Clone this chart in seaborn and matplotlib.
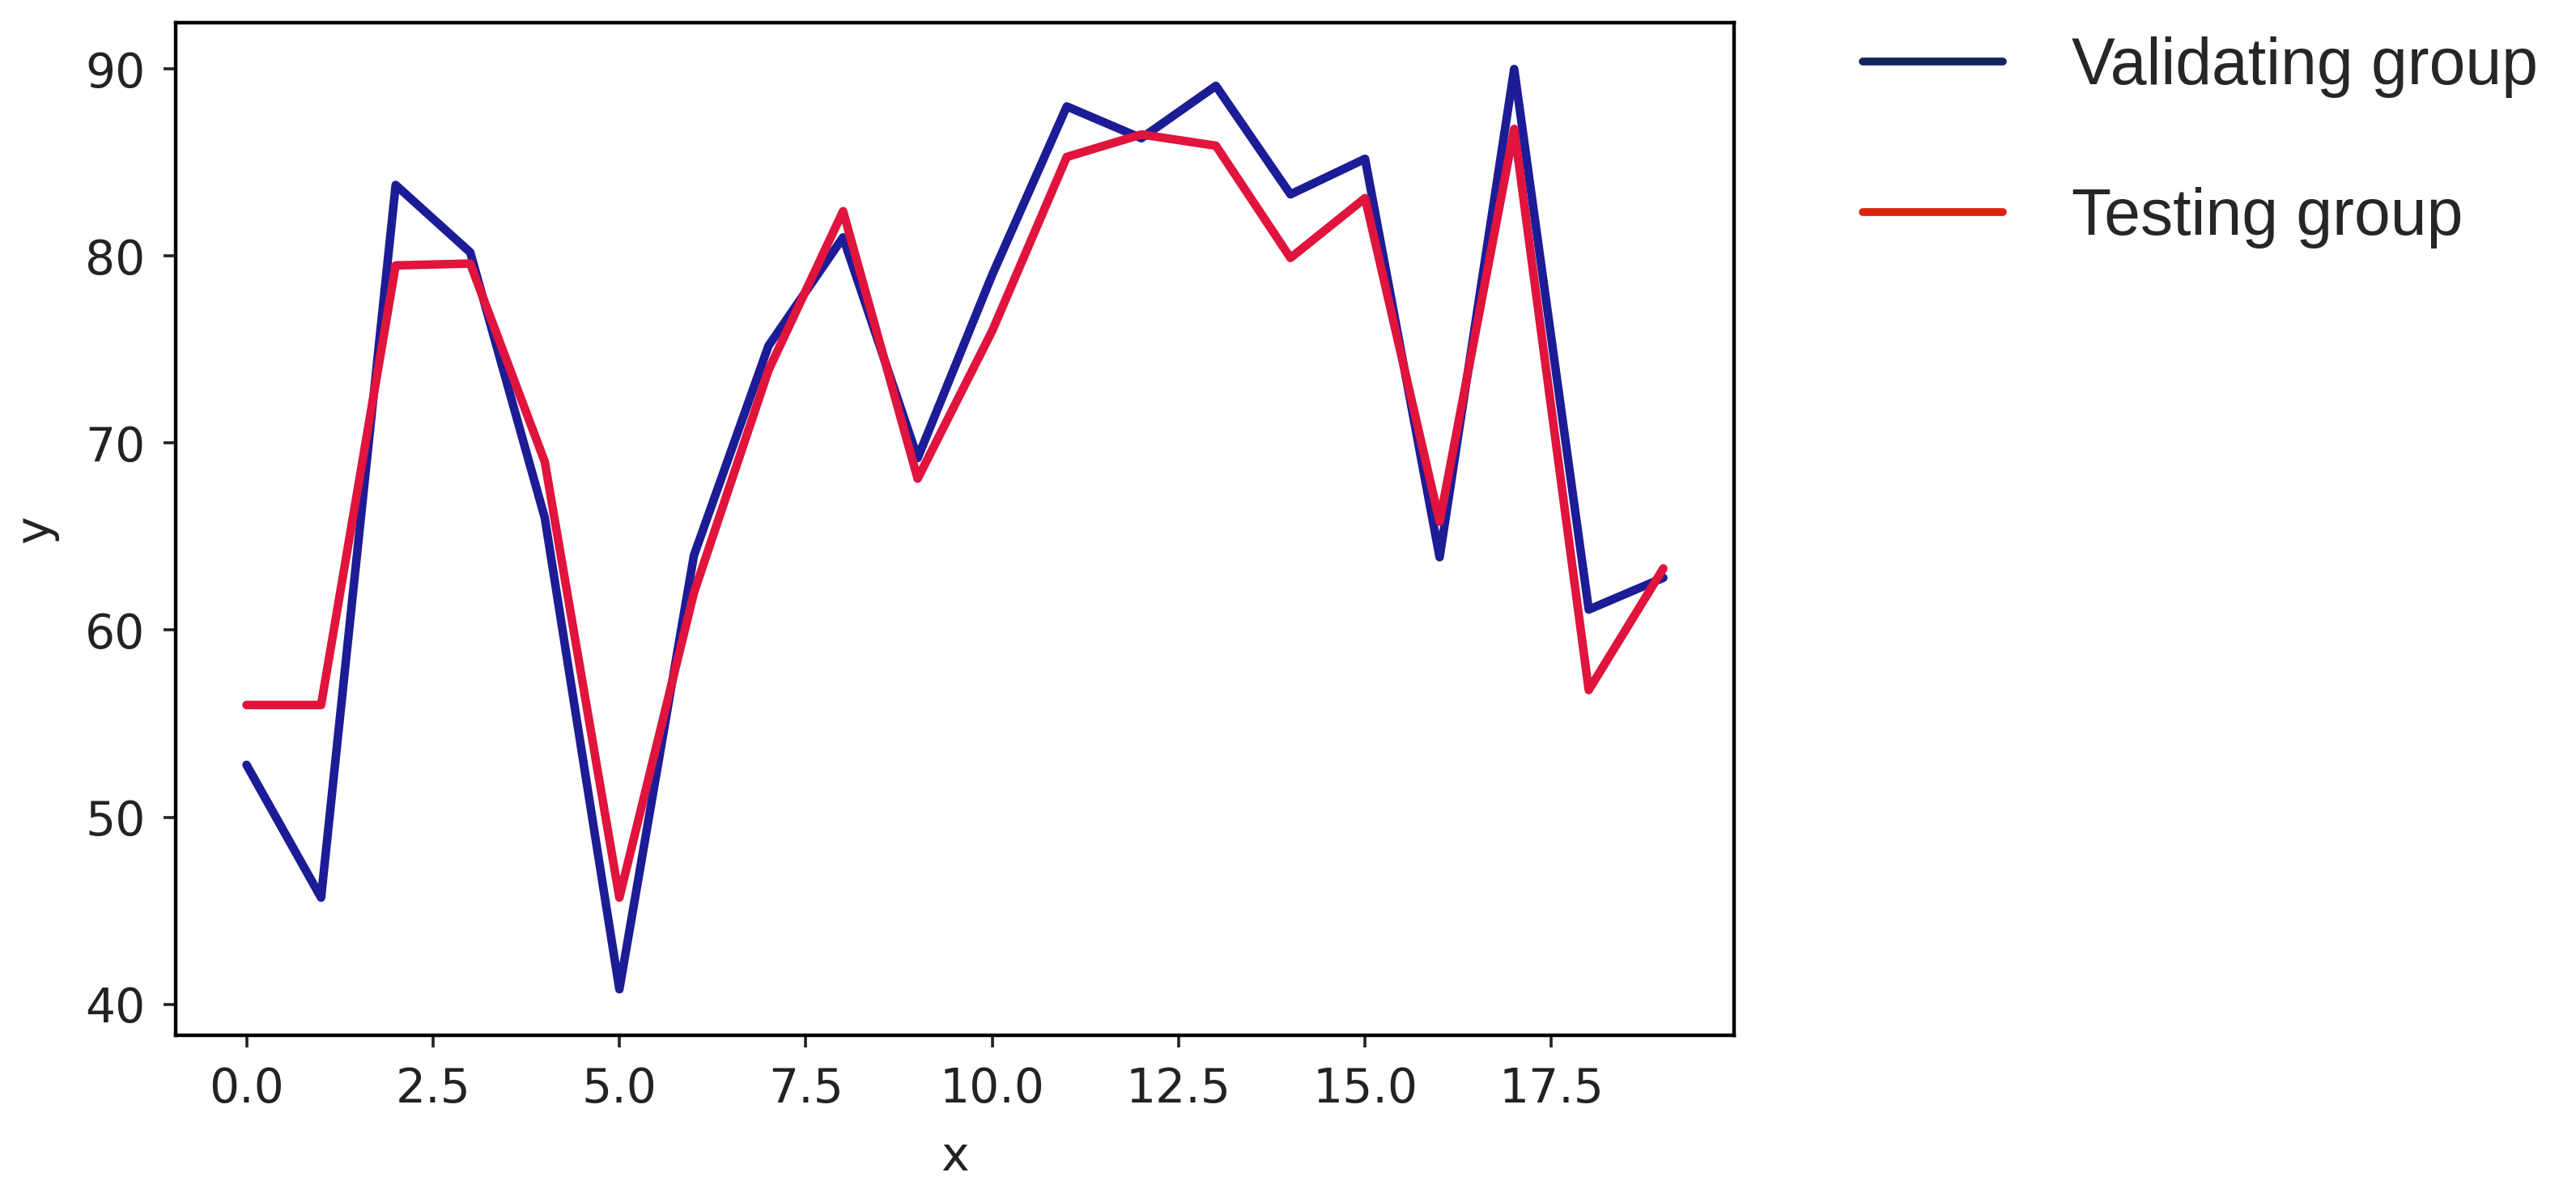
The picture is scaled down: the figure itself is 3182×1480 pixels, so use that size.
import seaborn as sns
import matplotlib.pyplot as plt
from matplotlib.lines import Line2D
import pandas as pd

# values
x = list(range(20))
validating = [52.8, 45.7, 83.8, 80.2, 66.0, 40.8, 64.0, 75.2, 81.0, 69.2,
              79.0, 88.0, 86.3, 89.1, 83.3, 85.2, 63.9, 90.0, 61.1, 62.8]
testing = [56.0, 56.0, 79.5, 79.6, 69.0, 45.7, 62.0, 73.9, 82.4, 68.1,
           76.0, 85.3, 86.5, 85.9, 79.9, 83.1, 65.8, 86.8, 56.8, 63.3]
labels = ["Validating group", "Testing group"]

df = pd.DataFrame({"x": x, "validating": validating, "testing": testing})

sns.set_style("ticks", {"axes.edgecolor": "black"})
plt.rcParams["font.family"] = ["DejaVu Sans"]

fig = plt.figure(figsize=(15.91, 7.4), dpi=200)
ax = fig.add_axes([0.0682, 0.1358, 0.605, 0.845])

c_val = "#1c1c96"
c_test = "#e0143c"
sns.lineplot(data=df, x="x", y="validating", color=c_val, linewidth=3.8, ax=ax)
sns.lineplot(data=df, x="x", y="testing", color=c_test, linewidth=3.8, ax=ax)

ax.set_xticks([0, 2.5, 5, 7.5, 10, 12.5, 15, 17.5])
ax.set_xticklabels(["0.0", "2.5", "5.0", "7.5", "10.0", "12.5", "15.0", "17.5"])
ax.set_yticks([40, 50, 60, 70, 80, 90])
ax.tick_params(labelsize=21, length=5.5, width=1.3, pad=8, colors="#222222")
ax.set_xlabel("x", fontsize=21, labelpad=10, color="#222222")
ax.set_ylabel("y", fontsize=21, labelpad=12, color="#222222")
for s in ax.spines.values():
    s.set_linewidth(1.6)
    s.set_color("black")

handles = [Line2D([], [], color="#14245e", linewidth=3.5),
           Line2D([], [], color="#d9230f", linewidth=3.5)]
fig.legend(handles, labels, loc="upper left", bbox_to_anchor=(0.7105, 0.997),
           frameon=False, prop={"family": "Liberation Sans", "size": 29},
           handlelength=2.15, handletextpad=1.05, labelspacing=1.37, borderpad=0)

fig.savefig("out.png", dpi=200, facecolor="white")
